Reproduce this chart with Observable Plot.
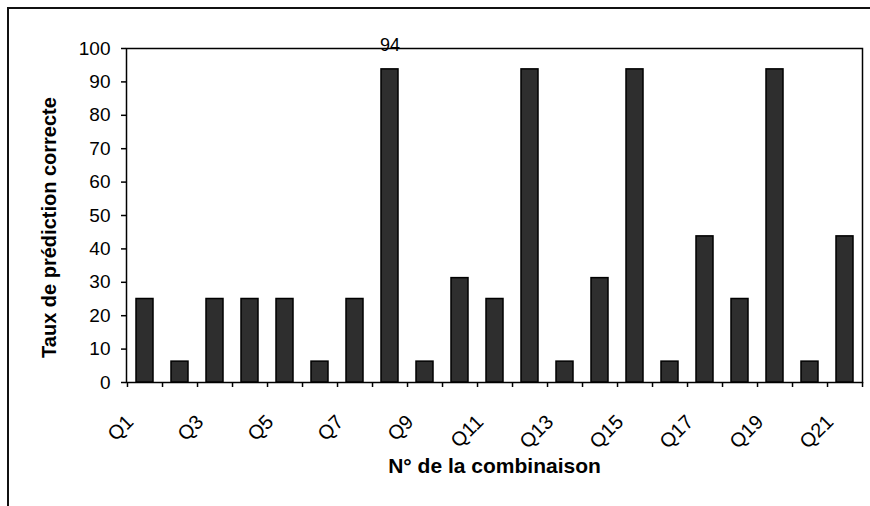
<!DOCTYPE html>
<html>
<head>
<meta charset="utf-8">
<script src="https://cdn.jsdelivr.net/npm/d3@7"></script>
<script src="https://cdn.jsdelivr.net/npm/@observablehq/plot@0.6"></script>
<style>
  html, body { margin: 0; padding: 0; background: #fff; }
  #wrap { position: relative; width: 870px; height: 506px; overflow: hidden; }
  #border { position: absolute; left: 7px; top: 7px; right: -10px; bottom: -10px;
            border-left: 2px solid #111; border-top: 2px solid #111; pointer-events: none; }
</style>
</head>
<body>
<div id="wrap"><div id="border"></div></div>
<script>
const categories = ["Q1","Q2","Q3","Q4","Q5","Q6","Q7","Q8","Q9","Q10","Q11","Q12","Q13","Q14","Q15","Q16","Q17","Q18","Q19","Q20","Q21"];
const values = [25, 6.25, 25, 25, 25, 6.25, 25, 93.75, 6.25, 31.25, 25, 93.75, 6.25, 31.25, 93.75, 6.25, 43.75, 25, 93.75, 6.25, 43.75];
const labelledIndex = [7];
const labelText = ["94"];
const yTicks = [0,10,20,30,40,50,60,70,80,90,100];
const xTickLabels = ["Q1","Q3","Q5","Q7","Q9","Q11","Q13","Q15","Q17","Q19","Q21"];
const yTitle = "Taux de prédiction correcte";
const xTitle = "N° de la combinaison";

const data = categories.map((c, i) => ({cat: c, v: values[i]}));
const labels = labelledIndex.map((i, k) => ({cat: categories[i], v: values[i], t: labelText[k]}));

const W = 870, H = 506, mL = 126, mR = 8;
const bw = (W - mL - mR) / categories.length;

const chart = Plot.plot({
  width: W,
  height: H,
  marginLeft: mL,
  marginRight: mR,
  marginTop: 48,
  marginBottom: 124,
  style: {fontFamily: "'Liberation Sans', Arial, sans-serif", fontSize: "18px", color: "#000", background: "transparent"},
  x: {domain: categories, paddingInner: 0.52, paddingOuter: 0.26, align: 0.5},
  y: {domain: [0, 100]},
  marks: [
    Plot.frame({stroke: "#000", strokeWidth: 1.5}),
    Plot.barY(data, {x: "cat", y: "v", fill: "#2e2e2e", stroke: "#000", strokeWidth: 1.5}),
    Plot.text(labels, {x: "cat", y: "v", text: "t", dy: -24, fontSize: 18}),
    Plot.axisY({ticks: yTicks, tickSize: 5, tickPadding: 11, label: null, fontSize: 19, strokeWidth: 1.5}),
    Plot.axisX({ticks: xTickLabels, tickSize: 0, tickPadding: 22, tickRotate: -45, label: null, fontSize: 20, dx: -15, dy: 14}),
    Plot.axisX({ticks: categories, tickSize: 5, text: null, label: null, dx: bw / 2, strokeWidth: 1.5}),
    Plot.axisX({ticks: [categories[0]], tickSize: 5, text: null, label: null, dx: -bw / 2, strokeWidth: 1.5}),
    Plot.text([yTitle], {frameAnchor: "left", textAnchor: "middle", rotate: -90, dx: -77, dy: 12, fontWeight: "bold", fontSize: 20}),
    Plot.text([xTitle], {frameAnchor: "bottom", dy: 90, dx: 0, fontWeight: "bold", fontSize: 21})
  ]
});
document.getElementById("wrap").prepend(chart);
</script>
</body>
</html>
